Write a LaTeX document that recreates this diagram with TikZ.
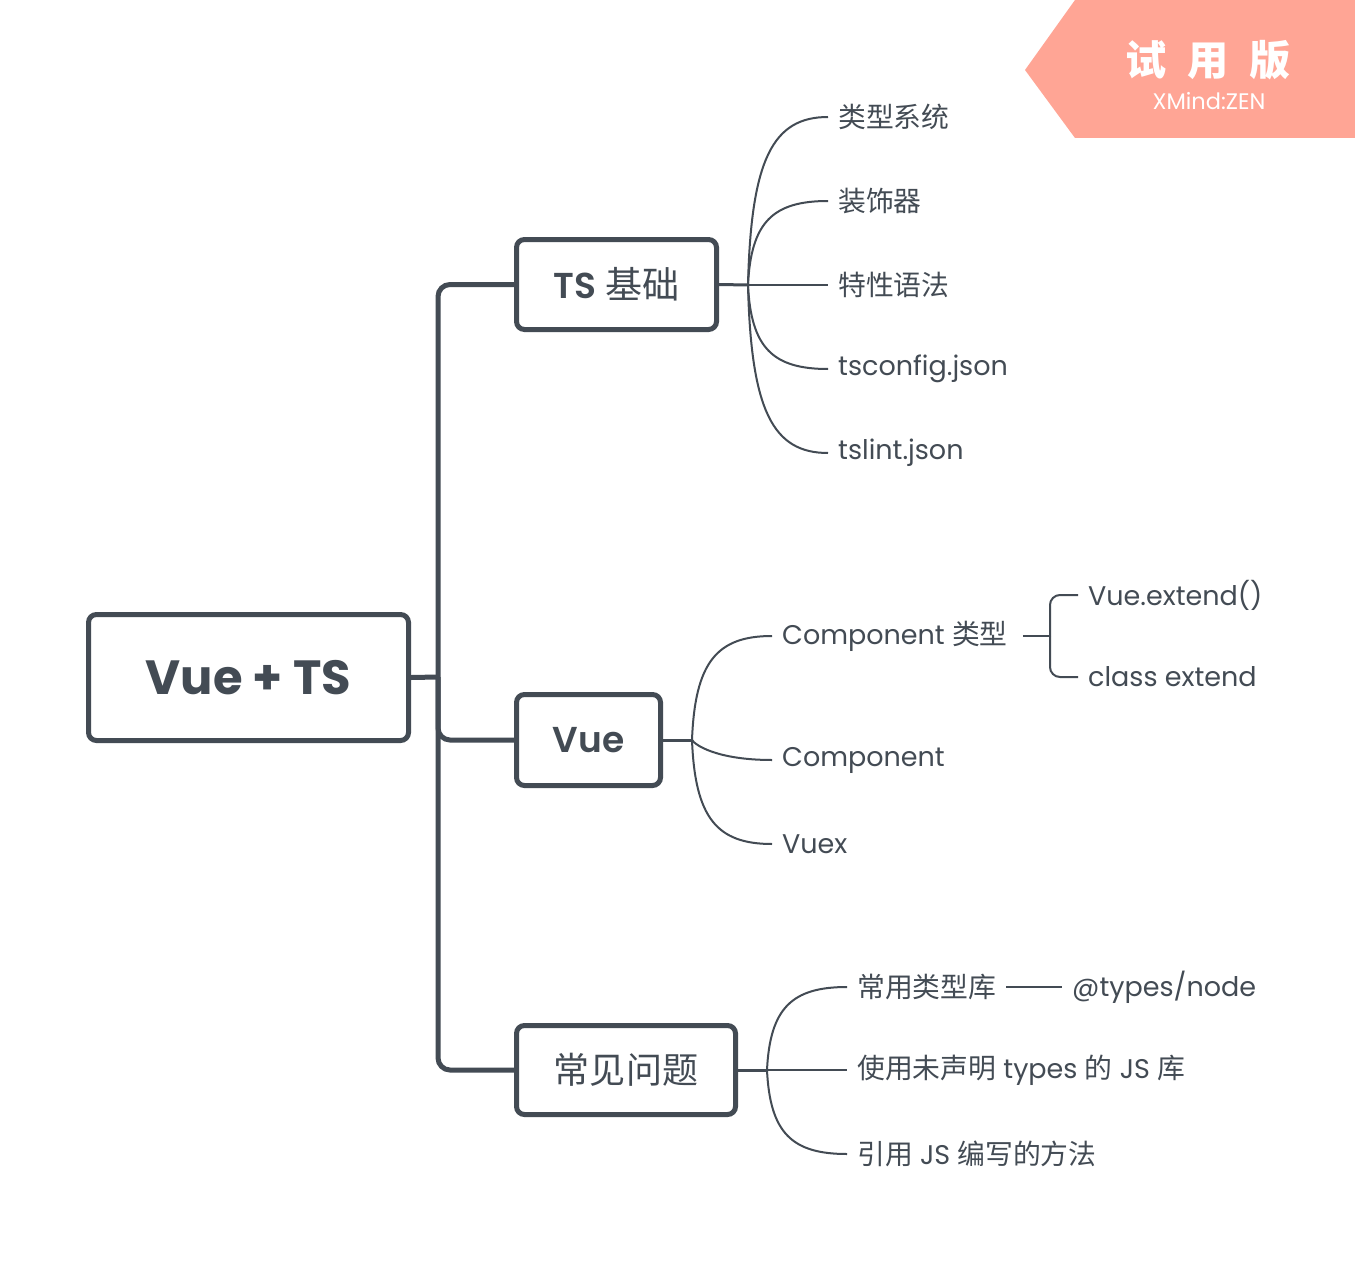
\documentclass[tikz,border=0pt]{standalone}
\usepackage{fontspec}
\setmainfont{Poppins}
\newfontfamily\cjk[Scale=1.03]{Noto Sans CJK SC}
\newfontfamily\psemi{Poppins SemiBold}
\usetikzlibrary{calc}
\definecolor{ink}{HTML}{434B54}
\definecolor{wm}{HTML}{FFA595}
\tikzset{
  boxnode/.style={draw=ink, line width=5pt, rounded corners=8pt, text=ink, inner sep=0pt, align=center},
  leaf/.style={anchor=west, text=ink, inner xsep=10pt, inner ysep=0pt, font=\fontsize{27}{31}\selectfont},
  thin/.style={draw=ink, line width=2pt},
  mid/.style={draw=ink, line width=3pt},
  thick/.style={draw=ink, line width=5pt, rounded corners=12pt},
}
\begin{document}
\begin{tikzpicture}[x=1pt,y=-1pt]
\useasboundingbox (0,0) rectangle (1355,1271);
\fill[white] (0,0) rectangle (1355,1271);
% watermark
\fill[wm] (1075,0) -- (1355,0) -- (1355,138) -- (1075,138) -- (1025,70) -- cycle;
\node[text=white, font=\cjk\bfseries\fontsize{40}{44}\selectfont] (wmt) at (1208,60) {试\hspace{0.5em}用\hspace{0.5em}版};
\node[text=white, font=\fontsize{22.5}{26}\selectfont] (wms) at (1209,101) {XMind:ZEN};

% main boxes
\node[boxnode, minimum width=320pt, minimum height=126pt, font=\bfseries\fontsize{48}{56}\selectfont] (root) at (248.5,677.5) {Vue + TS};
\node[boxnode, minimum width=200pt, minimum height=90pt, font=\fontsize{36}{40}\selectfont] (ts) at (616.5,284.5) {{\psemi TS} {\cjk 基础}};
\node[boxnode, minimum width=144pt, minimum height=91pt, font=\psemi\fontsize{36}{40}\selectfont] (vue) at (588.5,740) {Vue};
\node[boxnode, minimum width=219pt, minimum height=89pt, font=\cjk\fontsize{35}{40}\selectfont] (q) at (626,1070) {常见问题};

% spine
\coordinate (sp) at (438,677);
\draw[thick, rounded corners=0pt] (root.east) -- (sp);
\draw[thick] (sp) |- (ts.west);
\draw[thick] (sp) |- (vue.west);
\draw[thick] (sp) |- (q.west);

% TS branch
\coordinate (h1) at (748,285);
\draw[mid] (ts.east) -- (h1);
\node[leaf] (t1) at (828,117) {\cjk 类型系统};
\node[leaf] (t2) at (828,201) {\cjk 装饰器};
\node[leaf] (t3) at (828,285) {\cjk 特性语法};
\node[leaf] (t4) at (828,369) {tsconfig.json};
\node[leaf] (t5) at (828,453) {tslint.json};
\draw[thin] (h1) .. controls (751,159) and (773,117) .. (t1.west);
\draw[thin] (h1) .. controls (751,222) and (773,201) .. (t2.west);
\draw[thin] (h1) -- (t3.west);
\draw[thin] (h1) .. controls (751,348) and (773,369) .. (t4.west);
\draw[thin] (h1) .. controls (751,411) and (773,453) .. (t5.west);

% Vue branch
\coordinate (h2) at (692,740);
\draw[mid] (vue.east) -- (h2);
\node[leaf] (v1) at (772,636) {Component {\cjk 类型}};
\node[leaf] (v2) at (772,760) {Component};
\node[leaf] (v3) at (772,844) {Vuex};
\draw[thin] (h2) .. controls (695,662) and (717,636) .. (v1.west);
\draw[thin] (h2) .. controls (695,745) and (717,760) .. (v2.west);
\draw[thin] (h2) .. controls (695,818) and (717,844) .. (v3.west);
\node[leaf] (v11) at (1078,595) {Vue.extend()};
\node[leaf] (v12) at (1078,677) {class extend};
\coordinate (b1) at (1050,636);
\draw[thin] ([xshift=5pt]v1.east) -- (b1);
\draw[thin, rounded corners=10pt] (b1) |- (v11.west);
\draw[thin, rounded corners=10pt] (b1) |- (v12.west);

% Q branch
\coordinate (h3) at (767,1070);
\draw[mid] (q.east) -- (h3);
\node[leaf] (q1) at (847,987) {\cjk 常用类型库};
\node[leaf] (q2) at (847,1070) {{\cjk 使用未声明} types {\cjk 的} JS {\cjk 库}};
\node[leaf] (q3) at (847,1154) {{\cjk 引用} JS {\cjk 编写的方法}};
\draw[thin] (h3) .. controls (770,1008) and (792,987) .. (q1.west);
\draw[thin] (h3) -- (q2.west);
\draw[thin] (h3) .. controls (770,1133) and (792,1154) .. (q3.west);
\node[leaf] (q11) at (1062,987) {@types/node};
\draw[thin] (q1.east) -- (q11.west);
\end{tikzpicture}
\end{document}
